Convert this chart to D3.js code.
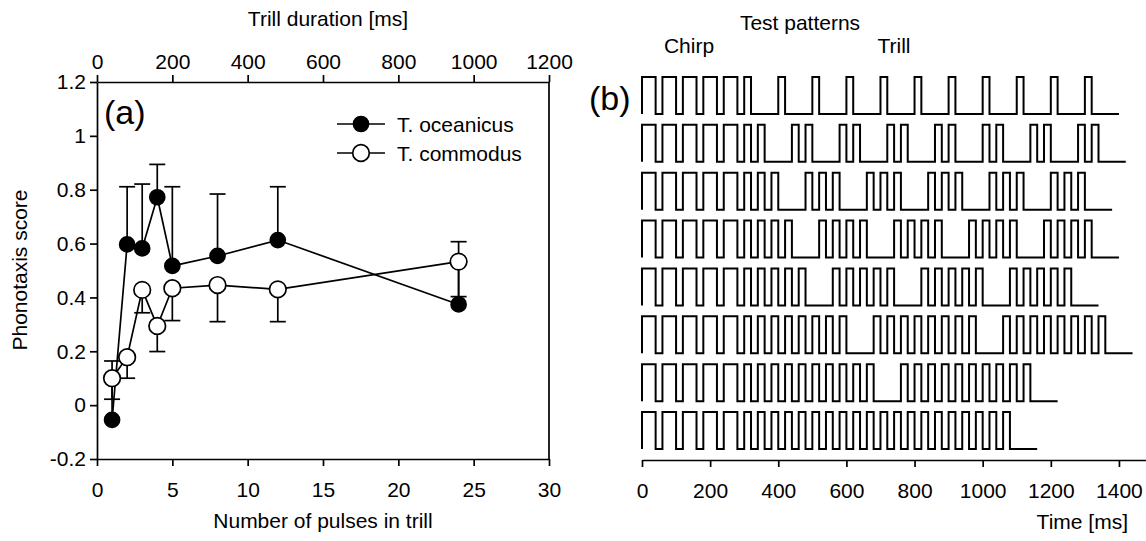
<!DOCTYPE html>
<html>
<head>
<meta charset="utf-8">
<script src="https://cdn.jsdelivr.net/npm/d3@7"></script>
<style>
  body { margin: 0; background: #fff; }
  svg text { font-family: "Liberation Sans", Arial, sans-serif; fill: #000; }
</style>
</head>
<body>
<div id="chart"></div>
<script>
// panel (a) data
const pulses = [1, 2, 3, 4, 5, 8, 12, 24];
const oceanicus = [-0.055, 0.597, 0.582, 0.772, 0.517, 0.554, 0.613, 0.374];
const oceanicusUpper = [0.164, 0.811, 0.821, 0.894, 0.811, 0.784, 0.811, 0.607];
const commodus = [0.100, 0.178, 0.428, 0.294, 0.434, 0.446, 0.430, 0.533];
const commodusLower = [0.022, 0.100, 0.343, 0.199, 0.314, 0.310, 0.310, 0.403];

const pulseTicks = [0, 5, 10, 15, 20, 25, 30];
const durationTicks = [0, 200, 400, 600, 800, 1000, 1200];
const scoreTicks = [-0.2, 0, 0.2, 0.4, 0.6, 0.8, 1, 1.2];

// panel (b) test patterns (times in ms)
const chirpPulses = 5;
const chirpPeriod = 60;
const chirpOn = 40;
const trillPerUnit = [1, 2, 3, 4, 5, 8, 10, 20];
const trillUnits = [11, 8, 6, 5, 4, 3, 2, 1];
const trillPeriod = 40;
const trillOn = 20;
const unitGap = 60;
const timeTicks = [0, 200, 400, 600, 800, 1000, 1200, 1400];

const width = 1146, height = 541;
const fontSize = 21;
const plain = d3.format("d");

const svg = d3.select("#chart").append("svg")
  .attr("width", width)
  .attr("height", height);

svg.append("rect").attr("width", width).attr("height", height).attr("fill", "#fff");

// ---------- panel (a) ----------
const x = d3.scaleLinear().domain([0, 30]).range([97, 549]);
const xTop = d3.scaleLinear().domain([0, 1200]).range([97, 549]);
const y = d3.scaleLinear().domain([-0.2, 1.2]).range([459, 82]);

function styleAxis(g) {
  g.selectAll("path, line").attr("stroke", "#000").attr("stroke-width", 1.7);
  g.selectAll("text").attr("font-size", fontSize).attr("font-family", null);
}

svg.append("g")
  .attr("transform", "translate(0,459)")
  .call(d3.axisBottom(x).tickValues(pulseTicks).tickSize(7).tickPadding(16).tickSizeOuter(0).tickFormat(plain))
  .call(styleAxis);

svg.append("g")
  .attr("transform", "translate(0,82)")
  .call(d3.axisTop(xTop).tickValues(durationTicks).tickSize(7).tickPadding(6).tickSizeOuter(0).tickFormat(plain))
  .call(styleAxis);

svg.append("g")
  .attr("transform", "translate(97,0)")
  .call(d3.axisLeft(y).tickValues(scoreTicks).tickSize(7).tickPadding(4).tickSizeOuter(0)
    .tickFormat(d => String(+d.toFixed(1))))
  .call(styleAxis);

// right frame
svg.append("line")
  .attr("x1", x(30)).attr("x2", x(30))
  .attr("y1", y(1.2)).attr("y2", y(-0.2))
  .attr("stroke", "#000").attr("stroke-width", 1.7);

svg.append("text")
  .attr("x", 323).attr("y", 528)
  .attr("text-anchor", "middle").attr("font-size", fontSize)
  .text("Number of pulses in trill");

svg.append("text")
  .attr("x", 328).attr("y", 26)
  .attr("text-anchor", "middle").attr("font-size", fontSize)
  .text("Trill duration [ms]");

svg.append("text")
  .attr("transform", "translate(27,270) rotate(-90)")
  .attr("text-anchor", "middle").attr("font-size", fontSize)
  .text("Phonotaxis score");

svg.append("text")
  .attr("x", 104).attr("y", 124)
  .attr("font-size", 34)
  .text("(a)");

const line = d3.line().x(d => x(d[0])).y(d => y(d[1]));
const capW = 8;

function drawSeries(values, ends, filled) {
  const pts = pulses.map((p, i) => [p, values[i]]);
  svg.append("path")
    .attr("d", line(pts))
    .attr("fill", "none").attr("stroke", "#000").attr("stroke-width", 1.7);

  const eb = svg.append("g").attr("stroke", "#000").attr("stroke-width", 1.7);
  pulses.forEach((p, i) => {
    eb.append("line")
      .attr("x1", x(p)).attr("x2", x(p))
      .attr("y1", y(values[i])).attr("y2", y(ends[i]));
    eb.append("line")
      .attr("x1", x(p) - capW).attr("x2", x(p) + capW)
      .attr("y1", y(ends[i])).attr("y2", y(ends[i]));
  });

  svg.append("g").selectAll("circle")
    .data(pts).enter().append("circle")
    .attr("cx", d => x(d[0])).attr("cy", d => y(d[1]))
    .attr("r", filled ? 7.5 : 8.3)
    .attr("fill", filled ? "#000" : "#fff")
    .attr("stroke", "#000").attr("stroke-width", 1.7);
}

drawSeries(oceanicus, oceanicusUpper, true);
drawSeries(commodus, commodusLower, false);

// legend
const legend = [
  { name: "T. oceanicus", filled: true, y: 124 },
  { name: "T. commodus", filled: false, y: 153 }
];
legend.forEach(l => {
  svg.append("line")
    .attr("x1", 337).attr("x2", 385).attr("y1", l.y).attr("y2", l.y)
    .attr("stroke", "#000").attr("stroke-width", 1.7);
  svg.append("circle")
    .attr("cx", 361).attr("cy", l.y)
    .attr("r", l.filled ? 7.5 : 8.3)
    .attr("fill", l.filled ? "#000" : "#fff")
    .attr("stroke", "#000").attr("stroke-width", 1.7);
  svg.append("text")
    .attr("x", 397).attr("y", l.y + 7.5)
    .attr("font-size", fontSize)
    .text(l.name);
});

// ---------- panel (b) ----------
const t = d3.scaleLinear().domain([0, 1480]).range([642, 1146.2]);
const rowTop = d3.scaleLinear().domain([0, 7]).range([77, 412]);
const rowH = 37;

svg.append("g")
  .attr("transform", "translate(0,460)")
  .call(d3.axisBottom(t).tickValues(timeTicks).tickSize(7).tickPadding(16).tickSizeOuter(0).tickFormat(plain))
  .call(styleAxis);

svg.append("text")
  .attr("x", 1128).attr("y", 529)
  .attr("text-anchor", "end").attr("font-size", fontSize)
  .text("Time [ms]");

svg.append("text").attr("x", 589).attr("y", 110).attr("font-size", 34).text("(b)");
svg.append("text").attr("x", 800).attr("y", 30)
  .attr("text-anchor", "middle").attr("font-size", fontSize).text("Test patterns");
svg.append("text").attr("x", 689).attr("y", 53)
  .attr("text-anchor", "middle").attr("font-size", fontSize).text("Chirp");
svg.append("text").attr("x", 894).attr("y", 53)
  .attr("text-anchor", "middle").attr("font-size", fontSize).text("Trill");

function patternPulses(row) {
  const list = [];
  for (let k = 0; k < chirpPulses; k++) list.push([k * chirpPeriod, k * chirpPeriod + chirpOn]);
  const start = chirpPulses * chirpPeriod;
  const unitLen = trillPerUnit[row] * trillPeriod + unitGap;
  for (let u = 0; u < trillUnits[row]; u++) {
    for (let p = 0; p < trillPerUnit[row]; p++) {
      const on = start + u * unitLen + p * trillPeriod;
      list.push([on, on + trillOn]);
    }
  }
  const end = start + trillUnits[row] * unitLen;
  return { list, end };
}

trillPerUnit.forEach((n, row) => {
  const hi = rowTop(row), lo = rowTop(row) + rowH;
  const { list, end } = patternPulses(row);
  const path = d3.path();
  path.moveTo(t(0), lo);
  list.forEach(([on, off]) => {
    path.lineTo(t(on), lo);
    path.lineTo(t(on), hi);
    path.lineTo(t(off), hi);
    path.lineTo(t(off), lo);
  });
  path.lineTo(t(end), lo);
  svg.append("path")
    .attr("d", path.toString())
    .attr("fill", "none").attr("stroke", "#000").attr("stroke-width", 2)
    .attr("stroke-linejoin", "miter");
});
</script>
</body>
</html>
